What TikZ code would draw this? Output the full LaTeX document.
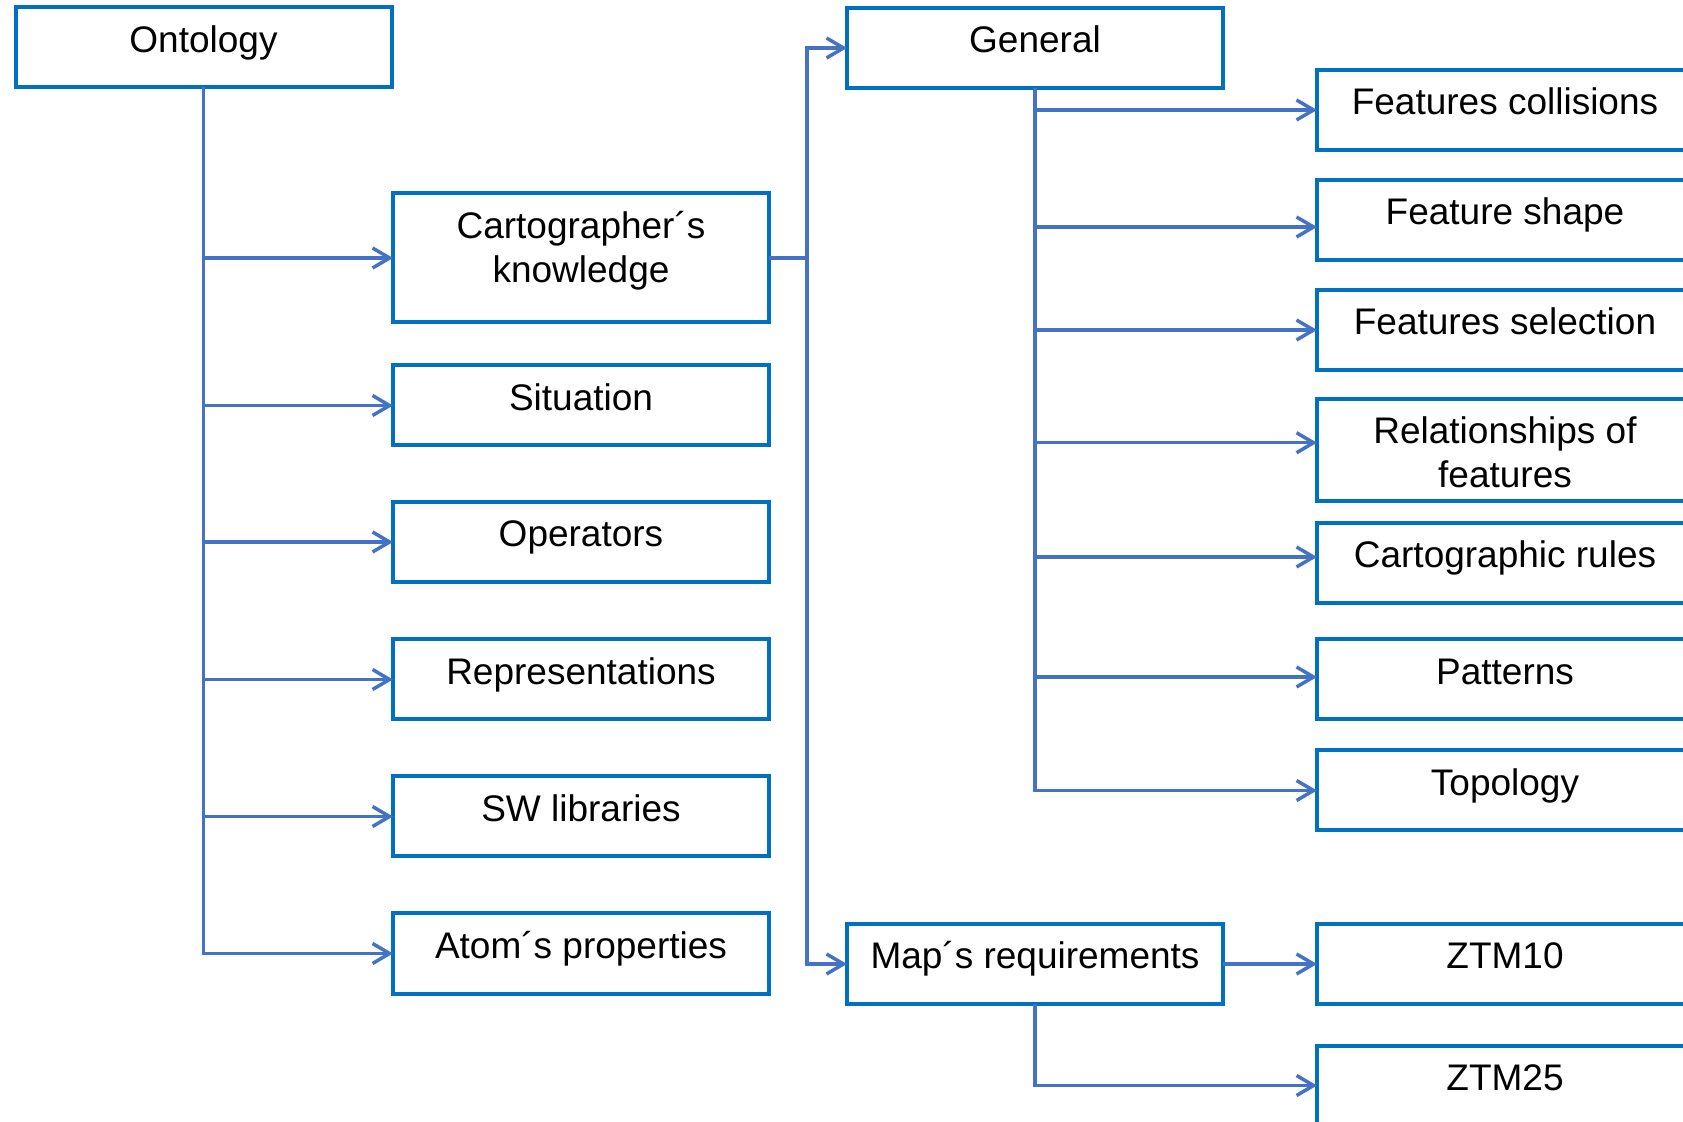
\documentclass[tikz,border=0pt]{standalone}
\usepackage{fontspec}
\setmainfont{Liberation Sans}
\usetikzlibrary{arrows.meta}
\definecolor{boxblue}{HTML}{0070C0}
\definecolor{linkblue}{HTML}{4472C4}
% two centred lines whose reference point is the first baseline
\newcommand\stacked[1]{\begin{tabular}[t]{@{}c@{}}#1\end{tabular}}

\begin{document}
\begin{tikzpicture}[x=0.5pt,y=-0.5pt,
  box/.style={draw=boxblue, line width=2pt, rectangle,
    minimum width=188pt, minimum height=40pt, inner sep=0pt, outer sep=0pt,
    text height=22.5pt, text depth=17.5pt, text=black,
    font=\fontsize{18.5pt}{22pt}\selectfont},
  link/.style={draw=linkblue, line width=1.75pt},
  arr/.style={link, -{Straight Barb[length=8.5pt, width=10pt]}}
]
\clip (0,0) rectangle (1683,1122);
\path[use as bounding box] (0,0) rectangle (1683,1122);

% left branch
\node[box] (onto) at (203.5,47.5) {Ontology};
\node[box, minimum height=64.5pt, text depth=42pt] (carto) at (581,258)
  {\stacked{Cartographer´s\\knowledge}};
\node[box] (sit)   at (581,405.5) {Situation};
\node[box] (oper)  at (581,542)   {Operators};
\node[box] (repr)  at (581,679.5) {Representations};
\node[box] (swlib) at (581,816.5) {SW libraries};
\node[box] (atom)  at (581,953.5) {Atom´s properties};

% middle column
\node[box] (gen)    at (1035,48)  {General};
\node[box] (mapreq) at (1035,964) {Map´s requirements};

% right column
\node[box] (fc)     at (1505,110)   {Features collisions};
\node[box] (fsh)    at (1505,220)   {Feature shape};
\node[box] (fsel)   at (1505,330)   {Features selection};
\node[box, minimum height=51.25pt, text depth=28.75pt] (rel) at (1505,450.25)
  {\stacked{Relationships of\\features}};
\node[box] (crules) at (1505,563)    {Cartographic rules};
\node[box] (pat)    at (1505,679.5)  {Patterns};
\node[box] (topo)   at (1505,790.5)  {Topology};
\node[box] (ztm10)  at (1505,964)    {ZTM10};
\node[box] (ztm25)  at (1505,1085.5) {ZTM25};

% connectors from Ontology
\draw[arr] (onto.south) |- (carto.west);
\draw[arr] (onto.south) |- (sit.west);
\draw[arr] (onto.south) |- (oper.west);
\draw[arr] (onto.south) |- (repr.west);
\draw[arr] (onto.south) |- (swlib.west);
\draw[arr] (onto.south) |- (atom.west);

% connectors from the cartographer's knowledge
\coordinate (cbus) at (807,258);
\draw[link] (carto.east) -- (cbus);
\draw[arr] (cbus) |- (gen.west);
\draw[arr] (cbus) |- (mapreq.west);

% connectors from General
\draw[arr] (gen.south) |- (fc.west);
\draw[arr] (gen.south) |- ([yshift=-3.5pt]fsh.west);
\draw[arr] (gen.south) |- (fsel.west);
\draw[arr] (gen.south) |- ([yshift=3.75pt]rel.west);
\draw[arr] (gen.south) |- ([yshift=3pt]crules.west);
\draw[arr] (gen.south) |- ([yshift=1.25pt]pat.west);
\draw[arr] (gen.south) |- (topo.west);

% connectors from the map's requirements
\draw[arr] (mapreq.east) -- (ztm10.west);
\draw[arr] (mapreq.south) |- (ztm25.west);
\end{tikzpicture}
\end{document}
